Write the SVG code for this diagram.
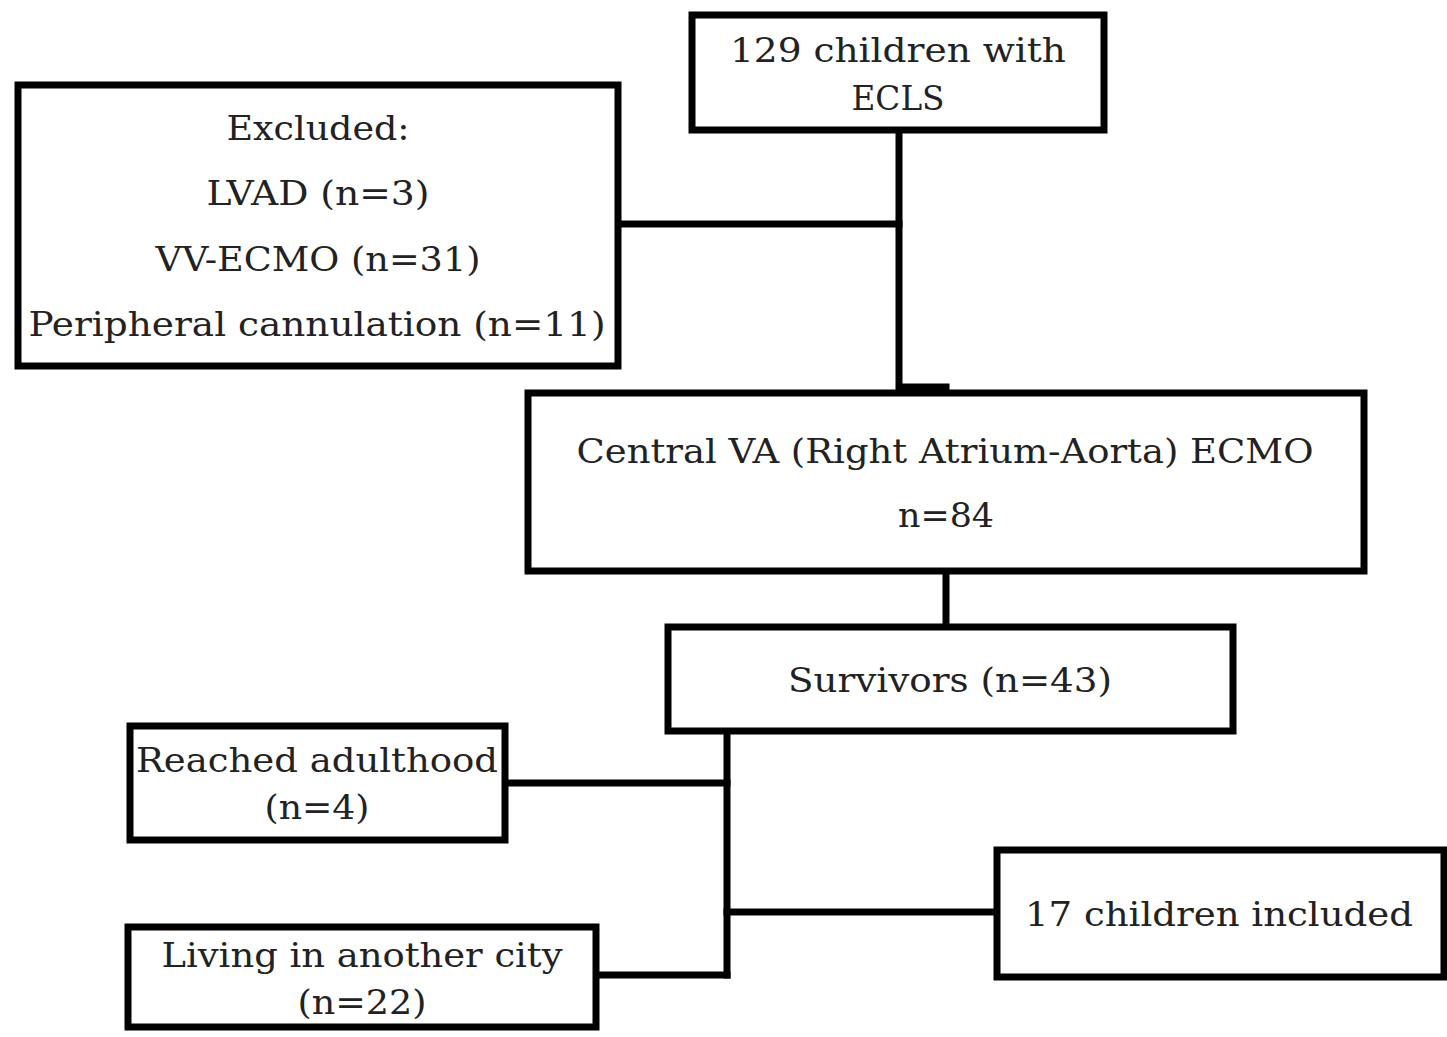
<svg xmlns="http://www.w3.org/2000/svg" width="1447" height="1037" viewBox="0 0 1447 1037">
<style>
.box{fill:#fff;stroke:#000;stroke-width:7}
.t{font-family:"DejaVu Serif","Liberation Serif",serif;font-size:34px;font-stretch:condensed;fill:#222;text-anchor:middle}
.c{fill:none;stroke:#000;stroke-width:7;stroke-linecap:square}
</style>
<rect width="1447" height="1037" fill="#fff"/>
<g id="connectors">
<path class="c" d="M899,130 V387 H946"/>
<path class="c" d="M618,224 H899"/>
<path class="c" d="M946,571 V627"/>
<path class="c" d="M727,731 V975"/>
<path class="c" d="M505,783 H727"/>
<path class="c" d="M596,975 H727"/>
<path class="c" d="M727,912 H997"/>
</g>
<g id="n1">
<rect class="box" x="692" y="15" width="412" height="115"/>
<text class="t" x="898" y="62" textLength="336" lengthAdjust="spacingAndGlyphs">129 children with</text>
<text class="t" x="898" y="110" textLength="93" lengthAdjust="spacingAndGlyphs">ECLS</text>
</g>
<g id="excluded">
<rect class="box" x="18" y="85" width="600" height="281"/>
<text class="t" x="318" y="140" textLength="183" lengthAdjust="spacingAndGlyphs">Excluded:</text>
<text class="t" x="318" y="205" textLength="223" lengthAdjust="spacingAndGlyphs">LVAD (n=3)</text>
<text class="t" x="318" y="271" textLength="325" lengthAdjust="spacingAndGlyphs">VV-ECMO (n=31)</text>
<text class="t" x="317" y="336" textLength="577" lengthAdjust="spacingAndGlyphs">Peripheral cannulation (n=11)</text>
</g>
<g id="central">
<rect class="box" x="528" y="393" width="836" height="178"/>
<text class="t" x="945" y="463" textLength="737" lengthAdjust="spacingAndGlyphs">Central VA (Right Atrium-Aorta) ECMO</text>
<text class="t" x="946" y="527" textLength="96" lengthAdjust="spacingAndGlyphs">n=84</text>
</g>
<g id="survivors">
<rect class="box" x="668" y="627" width="565" height="104"/>
<text class="t" x="950" y="692" textLength="324" lengthAdjust="spacingAndGlyphs">Survivors (n=43)</text>
</g>
<g id="adult">
<rect class="box" x="130" y="726" width="375" height="114"/>
<text class="t" x="317" y="772" textLength="362" lengthAdjust="spacingAndGlyphs">Reached adulthood</text>
<text class="t" x="317" y="819" textLength="105" lengthAdjust="spacingAndGlyphs">(n=4)</text>
</g>
<g id="city">
<rect class="box" x="128" y="927" width="468" height="100"/>
<text class="t" x="362" y="967" textLength="401" lengthAdjust="spacingAndGlyphs">Living in another city</text>
<text class="t" x="362" y="1014" textLength="129" lengthAdjust="spacingAndGlyphs">(n=22)</text>
</g>
<g id="included">
<rect class="box" x="997" y="850" width="447" height="127"/>
<text class="t" x="1219" y="926" textLength="388" lengthAdjust="spacingAndGlyphs">17 children included</text>
</g>
</svg>
